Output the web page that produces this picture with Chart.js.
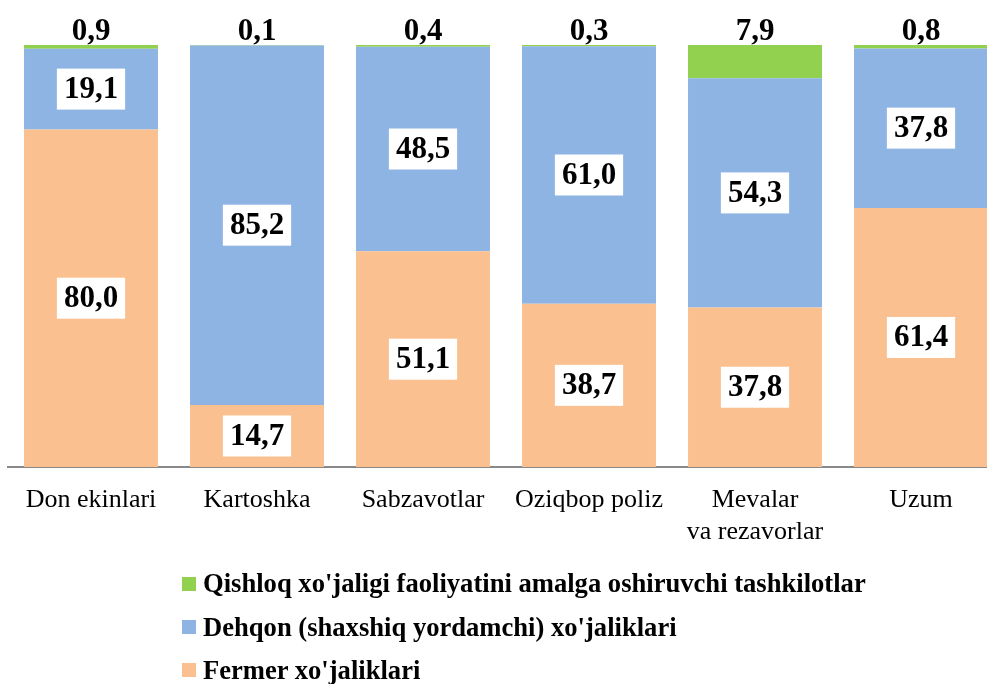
<!DOCTYPE html>
<html>
<head>
<meta charset="utf-8">
<script src="https://cdn.jsdelivr.net/npm/chart.js@4/dist/chart.umd.min.js"></script>
<style>
  html, body { margin: 0; padding: 0; background: #fff; overflow: hidden; width: 987px; height: 684px; }
  #wrap { position: absolute; left: 0; top: 0; width: 1010px; height: 560px; }
  #legend { position: absolute; left: 0; top: 0; width: 987px; height: 684px; pointer-events: none;
            font-family: "Liberation Serif", "Times New Roman", serif; font-weight: bold; font-size: 26.6px; color: #000; }
  .row { position: absolute; left: 182px; height: 30px; display: flex; align-items: center; white-space: nowrap; }
  .mk { width: 14px; height: 14px; margin-right: 7px; flex: none; }
</style>
</head>
<body>
<div id="wrap"><canvas id="c"></canvas></div>
<div id="legend"></div>
<script>
const categories = ["Don ekinlari", "Kartoshka", "Sabzavotlar", "Oziqbop poliz", ["Mevalar", "va rezavorlar"], "Uzum"];
const seriesNames = ["Fermer xo'jaliklari", "Dehqon (shaxshiq yordamchi) xo'jaliklari", "Qishloq xo'jaligi faoliyatini amalga oshiruvchi tashkilotlar"];
const fermer = [80.0, 14.7, 51.1, 38.7, 37.8, 61.4];
const dehqon = [19.1, 85.2, 48.5, 61.0, 54.3, 37.8];
const tashkilot = [0.9, 0.1, 0.4, 0.3, 7.9, 0.8];
const colors = ["#FAC090", "#8EB4E3", "#92D050"];

const fmt = v => v.toFixed(1).replace('.', ',');
const FONT = '"Liberation Serif", "Times New Roman", serif';

const labelPlugin = {
  id: 'boxLabels',
  afterDatasetsDraw(chart) {
    const ctx = chart.ctx;
    ctx.save();
    ctx.font = 'bold 31px ' + FONT;
    ctx.textAlign = 'center';
    ctx.textBaseline = 'middle';
    chart.data.datasets.forEach((ds, di) => {
      const meta = chart.getDatasetMeta(di);
      meta.data.forEach((bar, i) => {
        const txt = fmt(ds.data[i]);
        const tw = ctx.measureText(txt).width;
        if (di < 2) {
          const cy = (bar.y + bar.base) / 2;
          ctx.fillStyle = '#fff';
          ctx.fillRect(bar.x - tw / 2 - 7, cy - 20.5, tw + 14, 41);
          ctx.fillStyle = '#000';
          ctx.fillText(txt, bar.x, cy + 1);
        } else {
          ctx.fillStyle = '#000';
          ctx.fillText(txt, bar.x, chart.chartArea.top - 13);
        }
      });
    });
    ctx.restore();
  }
};

const chart = new Chart(document.getElementById('c'), {
  type: 'bar',
  data: {
    labels: categories,
    datasets: [
      { label: seriesNames[0], data: fermer, backgroundColor: colors[0] },
      { label: seriesNames[1], data: dehqon, backgroundColor: colors[1] },
      { label: seriesNames[2], data: tashkilot, backgroundColor: colors[2] }
    ]
  },
  options: {
    responsive: true,
    maintainAspectRatio: false,
    animation: false,
    devicePixelRatio: 1,
    layout: { padding: { left: 8, right: 6, top: 45, bottom: 13 } },
    datasets: { bar: { barPercentage: 0.807, categoryPercentage: 1.0, borderWidth: 0 } },
    plugins: { legend: { display: false }, tooltip: { enabled: false } },
    scales: {
      x: {
        stacked: true,
        grid: { display: false, drawTicks: false },
        border: { display: true, color: '#898989', width: 2 },
        ticks: { color: '#000', padding: 17, maxRotation: 0, autoSkip: false,
                 font: { family: FONT, size: 26, lineHeight: 1.23 } },
        afterFit(scale) { scale.height = 80; }
      },
      y: { stacked: true, display: false, min: 0, max: 100 }
    }
  },
  plugins: [labelPlugin]
});

// legend (reverse order: top series first)
const lg = document.getElementById('legend');
const rowsY = [583.5, 627, 670];
[2, 1, 0].forEach((di, k) => {
  const ds = chart.data.datasets[di];
  const row = document.createElement('div');
  row.className = 'row';
  row.style.top = (rowsY[k] - 15) + 'px';
  const mk = document.createElement('span');
  mk.className = 'mk';
  mk.style.background = ds.backgroundColor;
  const tx = document.createElement('span');
  tx.textContent = ds.label;
  row.appendChild(mk); row.appendChild(tx);
  lg.appendChild(row);
});
</script>
</body>
</html>
